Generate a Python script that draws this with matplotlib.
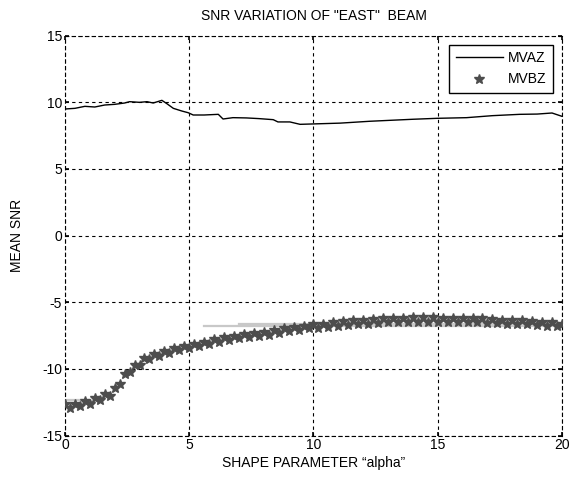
import numpy as np
import matplotlib
matplotlib.use("Agg")
import matplotlib.pyplot as plt

plt.rcParams["font.family"] = ["Liberation Sans", "DejaVu Sans"]
plt.rcParams["axes.unicode_minus"] = False

# MVAZ curve (solid black line)
mvaz_x = [0.0, 0.4, 0.8, 1.2, 1.6, 2.0, 2.4, 2.6, 3.0, 3.3, 3.55, 3.9, 4.1, 4.36, 4.7, 4.96,
          5.16, 5.6, 6.17, 6.36, 6.76, 7.3, 7.8, 8.38, 8.57, 9.05, 9.46, 10.0, 11.07, 12.27,
          14.0, 14.96, 16.16, 17.2, 18.3, 19.0, 19.6, 20.0]
mvaz_y = [9.5, 9.55, 9.7, 9.65, 9.8, 9.85, 9.95, 10.05, 10.0, 10.05, 9.95, 10.15, 9.9, 9.55, 9.35, 9.22,
          9.05, 9.05, 9.1, 8.75, 8.85, 8.83, 8.78, 8.7, 8.53, 8.53, 8.35, 8.38, 8.44, 8.58,
          8.73, 8.8, 8.85, 9.0, 9.1, 9.12, 9.2, 8.95]

# MVBZ samples (grey star markers), x = 0, 0.2, ..., 20
mvbz_x = np.round(np.arange(0, 20.01, 0.2), 1)
mvbz_y = [-12.65, -12.95, -12.6, -12.8, -12.4, -12.6, -12.2, -12.35, -11.9, -12.0,
          -11.4, -11.1, -10.4, -10.25, -9.7, -9.7, -9.2, -9.25, -8.85, -9.0,
          -8.65, -8.8, -8.45, -8.6, -8.3, -8.45, -8.15, -8.3, -7.95, -8.1,
          -7.75, -7.95, -7.6, -7.8, -7.5, -7.7, -7.4, -7.6, -7.3, -7.5,
          -7.2, -7.45, -7.1, -7.3, -6.95, -7.15, -6.85, -7.05, -6.75, -6.95,
          -6.65, -6.9, -6.6, -6.85, -6.5, -6.75, -6.4, -6.7, -6.35, -6.65,
          -6.3, -6.6, -6.25, -6.55, -6.2, -6.5, -6.15, -6.45, -6.15, -6.45,
          -6.1, -6.45, -6.1, -6.45, -6.1, -6.45, -6.15, -6.45, -6.15, -6.5,
          -6.15, -6.5, -6.2, -6.5, -6.2, -6.55, -6.25, -6.55, -6.3, -6.6,
          -6.3, -6.6, -6.35, -6.65, -6.4, -6.7, -6.45, -6.75, -6.5, -6.75,
          -6.6]

# light grey reference segments under the MVBZ markers
ref1_x = [5.6, 20.0]
ref1_y = [-6.8, -6.8]
ref2_x = [7.0, 20.0]
ref2_y = [-6.6, -6.6]
ref3_x = [0.0, 0.6]
ref3_y = [-12.35, -12.35]

fig = plt.figure(figsize=(5.71, 4.78), dpi=100)
ax = fig.add_axes([0.1138, 0.0889, 0.8704, 0.8364])

grey_ref = "#c8c8c8"
ax.plot(ref1_x, ref1_y, color=grey_ref, lw=1.6, zorder=2)
ax.plot(ref2_x, ref2_y, color=grey_ref, lw=1.6, zorder=2)
ax.plot(ref3_x, ref3_y, color=grey_ref, lw=1.6, zorder=2)

ax.plot(mvaz_x, mvaz_y, color="black", lw=1.0, label="MVAZ", zorder=3)
ax.plot(mvbz_x, mvbz_y, ls="none", marker="*", ms=7, color="#4d4d4d",
        markeredgewidth=1.0, label="MVBZ", zorder=3)

ax.set_xlim(0, 20)
ax.set_ylim(-15, 15)
ax.set_xticks([0, 5, 10, 15, 20])
ax.set_yticks([-15, -10, -5, 0, 5, 10, 15])
ax.grid(True, color="black", linestyle=(0, (3, 3)), linewidth=0.8)
for sp in ax.spines.values():
    sp.set_linestyle((0, (3, 3)))
    sp.set_linewidth(0.8)
ax.tick_params(direction="in", length=3, width=1.2, top=True, right=True,
               labelsize=10, pad=2)

ax.set_title('SNR VARIATION OF "EAST"  BEAM', fontsize=10, pad=11)
ax.set_xlabel("SHAPE PARAMETER \u201calpha\u201d", fontsize=10, labelpad=3)
ax.set_ylabel("MEAN SNR", fontsize=10, labelpad=13)

leg = ax.legend(loc="upper right", bbox_to_anchor=(0.982, 0.978), borderaxespad=0,
                fontsize=10, fancybox=False, framealpha=1, edgecolor="black",
                handlelength=3.4, handletextpad=0.4, borderpad=0.45, labelspacing=0.55)
leg.get_frame().set_linewidth(1.0)

fig.savefig("out.png", dpi=100)
